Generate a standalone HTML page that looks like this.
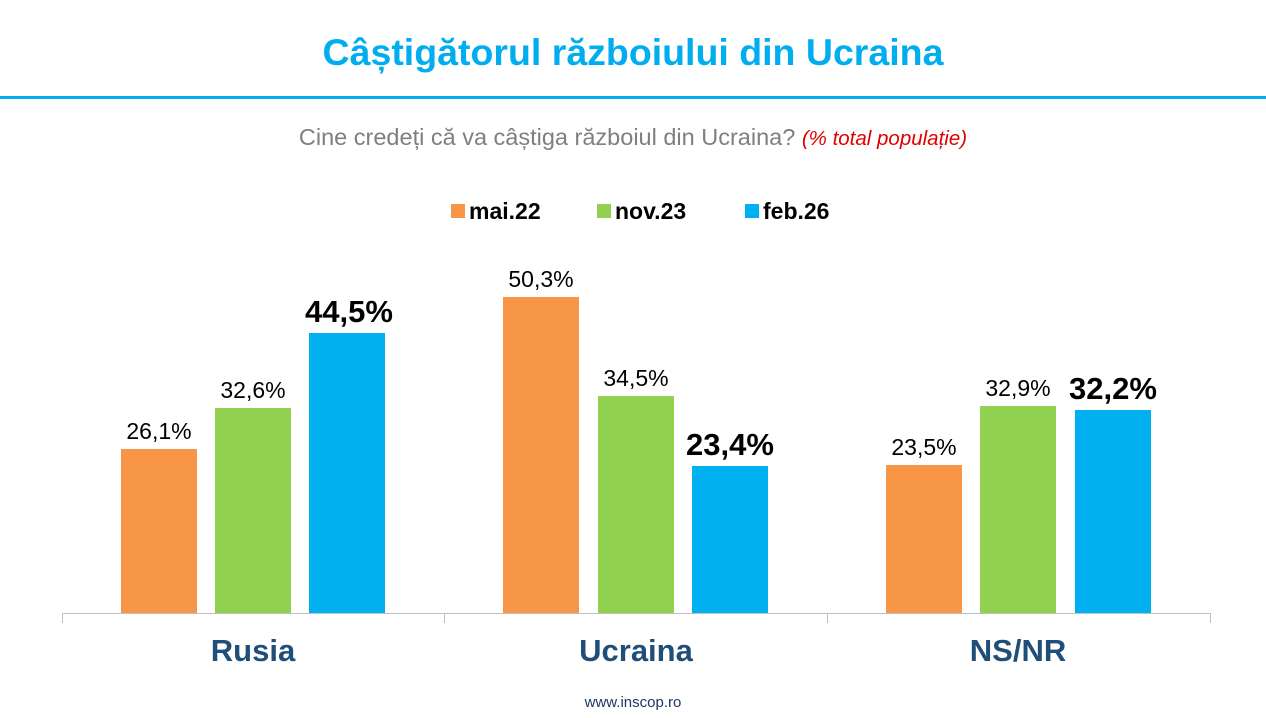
<!DOCTYPE html>
<html><head><meta charset="utf-8"><style>
body{margin:0;background:#fff;}
#c{position:relative;width:1266px;height:718px;overflow:hidden;font-family:"Liberation Sans",Arial,sans-serif;background:#fff;}
.a{position:absolute;}
.bar{position:absolute;width:76px;}
.o{background:#F79646}.g{background:#92D050}.b{background:#00B0F0}
.lab{position:absolute;width:120px;text-align:center;font-size:23px;color:#000;}
.big{font-size:31px;font-weight:bold;}
.cat{position:absolute;width:300px;text-align:center;font-size:31px;font-weight:bold;color:#1F4E79;top:633px;}
.tick{position:absolute;top:614px;width:1px;height:9px;background:#bfbfbf;}
.lg{position:absolute;top:198px;font-size:23px;font-weight:bold}
</style></head><body><div id="c">
<div class="a" style="left:0;width:1266px;top:31px;text-align:center;font-size:37.5px;font-weight:bold;color:#00AEEF;">Câștigătorul războiului din Ucraina</div>
<div class="a" style="left:0;top:96px;width:1266px;height:3px;background:#00AEEF"></div>
<div class="a" style="left:0;width:1266px;top:124px;text-align:center;font-size:23.5px;color:#7f7f7f;">Cine credeți că va câștiga războiul din Ucraina? <span style="color:#E00000;font-style:italic;font-size:20.5px">(% total populație)</span></div>
<div class="a o" style="left:451px;top:204px;width:14px;height:14px"></div>
<div class="lg" style="left:469px">mai.22</div>
<div class="a g" style="left:597px;top:204px;width:14px;height:14px"></div>
<div class="lg" style="left:615px">nov.23</div>
<div class="a b" style="left:745px;top:204px;width:14px;height:14px"></div>
<div class="lg" style="left:763px">feb.26</div>

<div class="bar o" style="left:121px;top:449px;height:165px"></div>
<div class="bar g" style="left:215px;top:408px;height:206px"></div>
<div class="bar b" style="left:309px;top:333px;height:281px"></div>
<div class="bar o" style="left:503px;top:297px;height:317px"></div>
<div class="bar g" style="left:598px;top:396px;height:218px"></div>
<div class="bar b" style="left:692px;top:466px;height:148px"></div>
<div class="bar o" style="left:886px;top:465px;height:149px"></div>
<div class="bar g" style="left:980px;top:406px;height:208px"></div>
<div class="bar b" style="left:1075px;top:410px;height:204px"></div>

<div class="lab" style="left:99px;top:418px">26,1%</div>
<div class="lab" style="left:193px;top:377px">32,6%</div>
<div class="lab big" style="left:289px;top:294px">44,5%</div>
<div class="lab" style="left:481px;top:266px">50,3%</div>
<div class="lab" style="left:576px;top:365px">34,5%</div>
<div class="lab big" style="left:670px;top:427px">23,4%</div>
<div class="lab" style="left:864px;top:434px">23,5%</div>
<div class="lab" style="left:958px;top:375px">32,9%</div>
<div class="lab big" style="left:1053px;top:371px">32,2%</div>

<div class="a" style="left:62px;top:613px;width:1149px;height:1px;background:#bfbfbf"></div>
<div class="tick" style="left:62px"></div><div class="tick" style="left:444px"></div><div class="tick" style="left:827px"></div><div class="tick" style="left:1210px"></div>
<div class="cat" style="left:103px">Rusia</div>
<div class="cat" style="left:486px">Ucraina</div>
<div class="cat" style="left:868px">NS/NR</div>
<div class="a" style="left:0;width:1266px;top:694px;text-align:center;font-size:15px;color:#1F3864">www.inscop.ro</div>
</div></body></html>
